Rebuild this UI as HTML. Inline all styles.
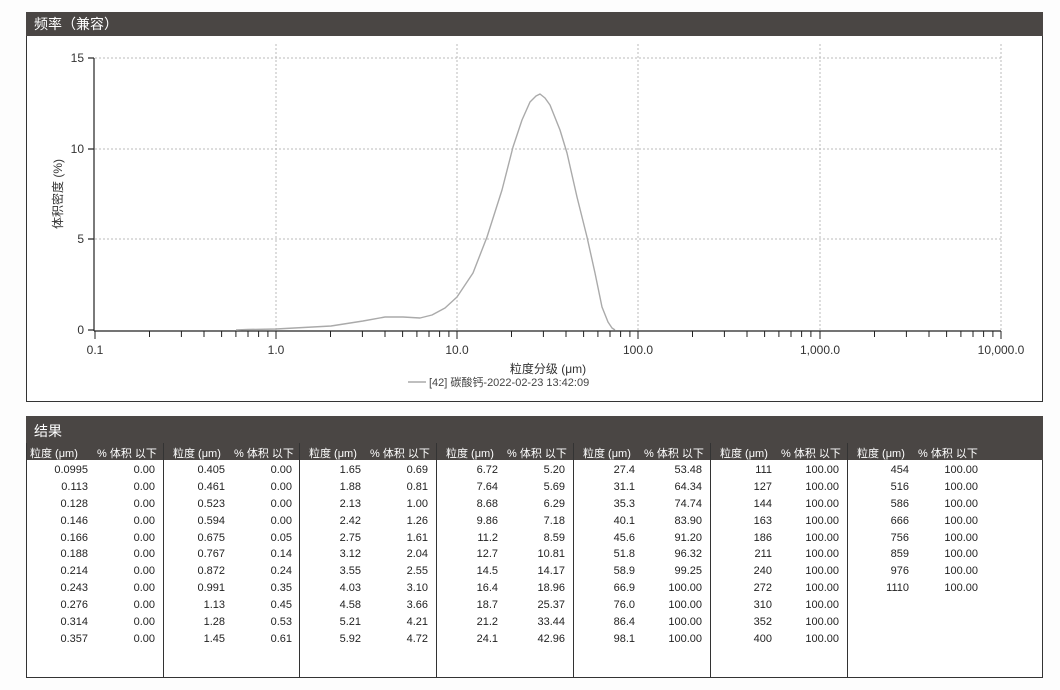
<!DOCTYPE html>
<html><head><meta charset="utf-8"><style>
body{margin:0;width:1060px;height:690px;background:#fdfdfd;position:relative;overflow:hidden;font-family:"Liberation Sans","Noto Sans CJK SC",sans-serif;color:#222}
.panel{position:absolute;border:1.5px solid #333;background:#fff}
.hd{position:absolute;background:#4a4644;color:#fff;font-size:14px}
.g{position:absolute;top:443px;width:137px;height:234px;border-left:1.5px solid #333;font-size:11px}
.g .h{height:17px;background:#4a4644;color:#fff;position:relative}
.g .h span{position:absolute;top:2px}
.r{position:relative;height:16.9px}
.r span{position:absolute;top:0;text-align:right}
.a{right:76px}.b{right:9px}
</style></head><body>
<div class="panel" style="left:26px;top:12px;width:1015px;height:388px"></div>
<div class="hd" style="left:26px;top:12px;width:1017px;height:24px;line-height:24px;padding-left:8px;box-sizing:border-box">频率（兼容）</div>
<svg style="position:absolute;left:0;top:0" width="1060" height="410">
<g stroke="#bbb" stroke-dasharray="2,2" stroke-width="1">
<line x1="95" y1="58" x2="1001" y2="58"/><line x1="95" y1="149" x2="1001" y2="149"/><line x1="95" y1="239" x2="1001" y2="239"/>
<line x1="276" y1="44" x2="276" y2="330"/><line x1="457" y1="44" x2="457" y2="330"/><line x1="638" y1="44" x2="638" y2="330"/><line x1="820" y1="44" x2="820" y2="330"/><line x1="1001" y1="44" x2="1001" y2="330"/>
</g>
<g stroke="#222" stroke-width="1.2">
<line x1="94" y1="58" x2="94" y2="331"/><line x1="94" y1="331" x2="1001" y2="331"/>
<line x1="88" y1="58" x2="94" y2="58"/><line x1="88" y1="149" x2="94" y2="149"/><line x1="88" y1="239" x2="94" y2="239"/><line x1="88" y1="330" x2="94" y2="330"/>
</g>
<g stroke="#222" stroke-width="1">
<path d="M95 331v8M149.5 331v6M181.4 331v6M204 331v6M221.6 331v6M235.9 331v6M248 331v6M258.6 331v6M267.9 331v6M276 331v8
M330.5 331v6M362.4 331v6M385 331v6M402.6 331v6M416.9 331v6M429 331v6M439.6 331v6M448.9 331v6M457 331v8
M511.5 331v6M543.4 331v6M566 331v6M583.6 331v6M597.9 331v6M610 331v6M620.6 331v6M629.9 331v6M638 331v8
M692.5 331v6M724.4 331v6M747 331v6M764.6 331v6M778.9 331v6M791 331v6M801.6 331v6M810.9 331v6M820 331v8
M874.5 331v6M906.4 331v6M929 331v6M946.6 331v6M960.9 331v6M973 331v6M983.6 331v6M992.9 331v6M1001 331v8"/>
</g>
<polyline fill="none" stroke="#aaa" stroke-width="1.4" stroke-linejoin="round" points="236,330 248,329.5 276,329 331,326 363,321 385,317 403,317 420,318 432,315 445,308 457,297 473,273 487,237 502,190 513,147 522,120 530,102 536,96 540,94 545,98 550,105 560,130 567,153 577,197 587,237 595,273 602,307 608,322 612,328 615,330"/>
<g font-size="12" fill="#333" font-family="Liberation Sans,sans-serif">
<text x="84" y="62" text-anchor="end">15</text><text x="84" y="153" text-anchor="end">10</text><text x="84" y="243" text-anchor="end">5</text><text x="84" y="334" text-anchor="end">0</text>
<text x="95" y="354" text-anchor="middle">0.1</text><text x="276" y="354" text-anchor="middle">1.0</text><text x="457" y="354" text-anchor="middle">10.0</text><text x="638" y="354" text-anchor="middle">100.0</text><text x="820" y="354" text-anchor="middle">1,000.0</text><text x="1001" y="354" text-anchor="middle">10,000.0</text>
</g>
<text x="548" y="373" font-size="12" fill="#333" text-anchor="middle" font-family="Liberation Sans,Noto Sans CJK SC,sans-serif">粒度分级 (μm)</text>
<line x1="408" y1="382" x2="426" y2="382" stroke="#aaa" stroke-width="1.4"/>
<text x="429" y="386" font-size="11" fill="#444" font-family="Liberation Sans,Noto Sans CJK SC,sans-serif">[42] 碳酸钙-2022-02-23 13:42:09</text>
<text transform="translate(62,194) rotate(-90)" font-size="12" fill="#333" text-anchor="middle" font-family="Liberation Sans,Noto Sans CJK SC,sans-serif">体积密度 (%)</text>
</svg>

<div class="panel" style="left:26px;top:416px;width:1015px;height:260px"></div>
<div class="hd" style="left:26px;top:416px;width:1017px;height:27px;line-height:30px;padding-left:8px;box-sizing:border-box">结果</div>

<div class="g" style="left:26px"><div class="h"><span style="left:3px">粒度 (μm)</span><span style="left:70px">% 体积 以下</span></div><div style="height:4px"></div>
<div class="r"><span class="a">0.0995</span><span class="b">0.00</span></div><div class="r"><span class="a">0.113</span><span class="b">0.00</span></div><div class="r"><span class="a">0.128</span><span class="b">0.00</span></div><div class="r"><span class="a">0.146</span><span class="b">0.00</span></div><div class="r"><span class="a">0.166</span><span class="b">0.00</span></div><div class="r"><span class="a">0.188</span><span class="b">0.00</span></div><div class="r"><span class="a">0.214</span><span class="b">0.00</span></div><div class="r"><span class="a">0.243</span><span class="b">0.00</span></div><div class="r"><span class="a">0.276</span><span class="b">0.00</span></div><div class="r"><span class="a">0.314</span><span class="b">0.00</span></div><div class="r"><span class="a">0.357</span><span class="b">0.00</span></div></div>

<div class="g" style="left:163px"><div class="h"><span style="left:9px">粒度 (μm)</span><span style="left:70px">% 体积 以下</span></div><div style="height:4px"></div>
<div class="r"><span class="a">0.405</span><span class="b">0.00</span></div><div class="r"><span class="a">0.461</span><span class="b">0.00</span></div><div class="r"><span class="a">0.523</span><span class="b">0.00</span></div><div class="r"><span class="a">0.594</span><span class="b">0.00</span></div><div class="r"><span class="a">0.675</span><span class="b">0.05</span></div><div class="r"><span class="a">0.767</span><span class="b">0.14</span></div><div class="r"><span class="a">0.872</span><span class="b">0.24</span></div><div class="r"><span class="a">0.991</span><span class="b">0.35</span></div><div class="r"><span class="a">1.13</span><span class="b">0.45</span></div><div class="r"><span class="a">1.28</span><span class="b">0.53</span></div><div class="r"><span class="a">1.45</span><span class="b">0.61</span></div></div>

<div class="g" style="left:299px"><div class="h"><span style="left:9px">粒度 (μm)</span><span style="left:70px">% 体积 以下</span></div><div style="height:4px"></div>
<div class="r"><span class="a">1.65</span><span class="b">0.69</span></div><div class="r"><span class="a">1.88</span><span class="b">0.81</span></div><div class="r"><span class="a">2.13</span><span class="b">1.00</span></div><div class="r"><span class="a">2.42</span><span class="b">1.26</span></div><div class="r"><span class="a">2.75</span><span class="b">1.61</span></div><div class="r"><span class="a">3.12</span><span class="b">2.04</span></div><div class="r"><span class="a">3.55</span><span class="b">2.55</span></div><div class="r"><span class="a">4.03</span><span class="b">3.10</span></div><div class="r"><span class="a">4.58</span><span class="b">3.66</span></div><div class="r"><span class="a">5.21</span><span class="b">4.21</span></div><div class="r"><span class="a">5.92</span><span class="b">4.72</span></div></div>

<div class="g" style="left:436px"><div class="h"><span style="left:9px">粒度 (μm)</span><span style="left:70px">% 体积 以下</span></div><div style="height:4px"></div>
<div class="r"><span class="a">6.72</span><span class="b">5.20</span></div><div class="r"><span class="a">7.64</span><span class="b">5.69</span></div><div class="r"><span class="a">8.68</span><span class="b">6.29</span></div><div class="r"><span class="a">9.86</span><span class="b">7.18</span></div><div class="r"><span class="a">11.2</span><span class="b">8.59</span></div><div class="r"><span class="a">12.7</span><span class="b">10.81</span></div><div class="r"><span class="a">14.5</span><span class="b">14.17</span></div><div class="r"><span class="a">16.4</span><span class="b">18.96</span></div><div class="r"><span class="a">18.7</span><span class="b">25.37</span></div><div class="r"><span class="a">21.2</span><span class="b">33.44</span></div><div class="r"><span class="a">24.1</span><span class="b">42.96</span></div></div>

<div class="g" style="left:573px"><div class="h"><span style="left:9px">粒度 (μm)</span><span style="left:70px">% 体积 以下</span></div><div style="height:4px"></div>
<div class="r"><span class="a">27.4</span><span class="b">53.48</span></div><div class="r"><span class="a">31.1</span><span class="b">64.34</span></div><div class="r"><span class="a">35.3</span><span class="b">74.74</span></div><div class="r"><span class="a">40.1</span><span class="b">83.90</span></div><div class="r"><span class="a">45.6</span><span class="b">91.20</span></div><div class="r"><span class="a">51.8</span><span class="b">96.32</span></div><div class="r"><span class="a">58.9</span><span class="b">99.25</span></div><div class="r"><span class="a">66.9</span><span class="b">100.00</span></div><div class="r"><span class="a">76.0</span><span class="b">100.00</span></div><div class="r"><span class="a">86.4</span><span class="b">100.00</span></div><div class="r"><span class="a">98.1</span><span class="b">100.00</span></div></div>

<div class="g" style="left:710px"><div class="h"><span style="left:9px">粒度 (μm)</span><span style="left:70px">% 体积 以下</span></div><div style="height:4px"></div>
<div class="r"><span class="a">111</span><span class="b">100.00</span></div><div class="r"><span class="a">127</span><span class="b">100.00</span></div><div class="r"><span class="a">144</span><span class="b">100.00</span></div><div class="r"><span class="a">163</span><span class="b">100.00</span></div><div class="r"><span class="a">186</span><span class="b">100.00</span></div><div class="r"><span class="a">211</span><span class="b">100.00</span></div><div class="r"><span class="a">240</span><span class="b">100.00</span></div><div class="r"><span class="a">272</span><span class="b">100.00</span></div><div class="r"><span class="a">310</span><span class="b">100.00</span></div><div class="r"><span class="a">352</span><span class="b">100.00</span></div><div class="r"><span class="a">400</span><span class="b">100.00</span></div></div>

<div class="g" style="left:847px;width:195px"><div class="h"><span style="left:9px">粒度 (μm)</span><span style="left:70px">% 体积 以下</span></div><div style="height:4px"></div>
<div class="r"><span class="a" style="right:134px">454</span><span class="b" style="right:65px">100.00</span></div><div class="r"><span class="a" style="right:134px">516</span><span class="b" style="right:65px">100.00</span></div><div class="r"><span class="a" style="right:134px">586</span><span class="b" style="right:65px">100.00</span></div><div class="r"><span class="a" style="right:134px">666</span><span class="b" style="right:65px">100.00</span></div><div class="r"><span class="a" style="right:134px">756</span><span class="b" style="right:65px">100.00</span></div><div class="r"><span class="a" style="right:134px">859</span><span class="b" style="right:65px">100.00</span></div><div class="r"><span class="a" style="right:134px">976</span><span class="b" style="right:65px">100.00</span></div><div class="r"><span class="a" style="right:134px">1110</span><span class="b" style="right:65px">100.00</span></div></div>
</body></html>
